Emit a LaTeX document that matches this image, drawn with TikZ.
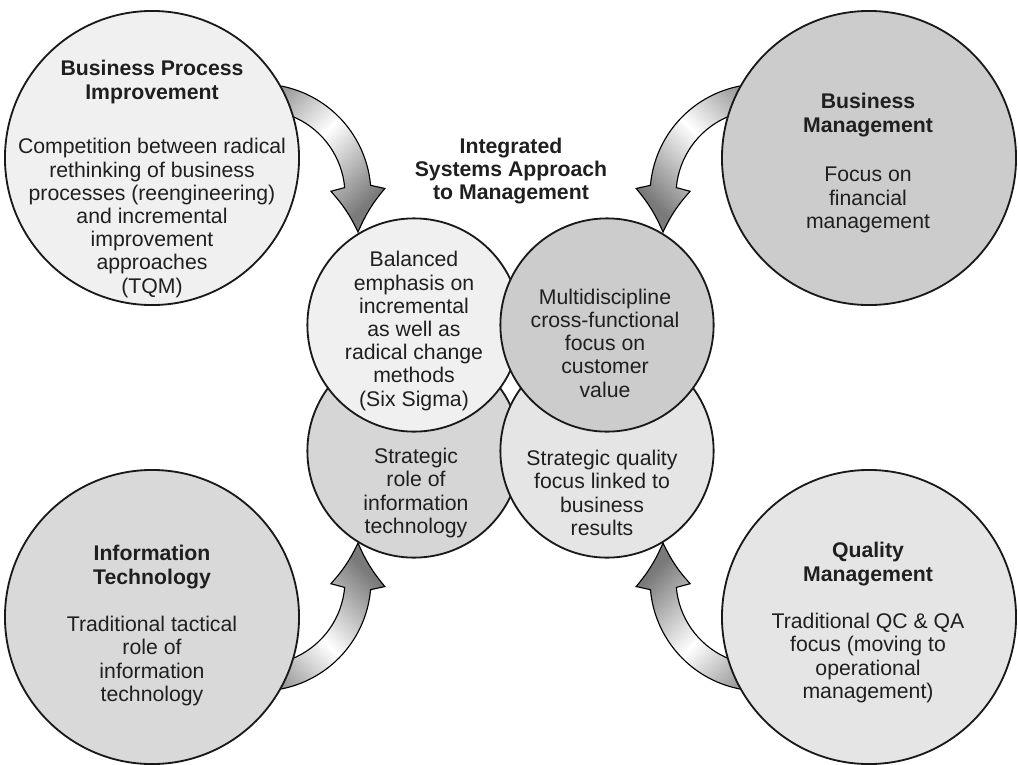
\documentclass[tikz,border=0pt]{standalone}
\usepackage{fontspec}
\setmainfont{Liberation Sans}
\usepackage{tikz}
\usetikzlibrary{calc}

\begin{document}
\begin{tikzpicture}[x=0.025cm, y=0.025cm,
	bigdisc/.style={circle, draw=black!90, line width=1.3pt, minimum size=7.35cm, inner sep=0pt},
	smalldisc/.style={circle, draw=black!90, line width=1.3pt, minimum size=5.33cm, inner sep=0pt},
	heading/.style={font=\bfseries\fontsize{15.1}{16.5}\selectfont, align=center, inner sep=0pt, text=black!88},
	body/.style={font=\fontsize{15.1}{16.5}\selectfont, align=center, inner sep=0pt, text=black!88},
	bendarrow/.style={draw=black, line width=0.8pt, left color=black!52, right color=black!52, middle color=white}]

	\useasboundingbox (0,0) rectangle (1018,-764);

	% centres of the four bent arrows
	\coordinate (atl) at (260,-195);
	\coordinate (atr) at (761,-195);
	\coordinate (abl) at (260,-580);
	\coordinate (abr) at (761,-580);

	\path[bendarrow, shading angle=45] ($(atl)+(110:111)$) arc[start angle=110, end angle=5, radius=111]
		-- ($(atl)+(3:125)$) to[bend right=8] ($(atl)+(0:98)+(0,-37)$) to[bend right=8] ($(atl)+(3:71)$) -- ($(atl)+(5:85)$)
		arc[start angle=5, end angle=110, radius=85] -- cycle;
	\path[bendarrow, shading angle=135] ($(atr)+(70:111)$) arc[start angle=70, end angle=175, radius=111]
		-- ($(atr)+(177:125)$) to[bend left=8] ($(atr)+(180:98)+(0,-37)$) to[bend left=8] ($(atr)+(177:71)$) -- ($(atr)+(175:85)$)
		arc[start angle=175, end angle=70, radius=85] -- cycle;
	\path[bendarrow, shading angle=-45] ($(abl)+(-110:111)$) arc[start angle=-110, end angle=-5, radius=111]
		-- ($(abl)+(-3:125)$) to[bend left=8] ($(abl)+(0:98)+(0,37)$) to[bend left=8] ($(abl)+(-3:71)$) -- ($(abl)+(-5:85)$)
		arc[start angle=-5, end angle=-110, radius=85] -- cycle;
	\path[bendarrow, shading angle=45] ($(abr)+(-70:111)$) arc[start angle=-70, end angle=-175, radius=111]
		-- ($(abr)+(-177:125)$) to[bend right=8] ($(abr)+(180:98)+(0,37)$) to[bend right=8] ($(abr)+(-177:71)$) -- ($(abr)+(-175:85)$)
		arc[start angle=-175, end angle=-70, radius=85] -- cycle;

	% outer circles
	\node[bigdisc, fill=black!6] (bpi) at (152,-158) {};
	\node[bigdisc, fill=black!20] (bm) at (869,-158) {};
	\node[bigdisc, fill=black!15] (it) at (152,-617) {};
	\node[bigdisc, fill=black!10] (qm) at (869,-617) {};

	% inner circles, lower pair first
	\node[smalldisc, fill=black!16] (srole) at (414,-451) {};
	\node[smalldisc, fill=black!10] (squal) at (607,-451) {};
	\node[smalldisc, fill=black!6] (bal) at (414,-325) {};
	\node[smalldisc, fill=black!20] (multi) at (607,-325) {};

	\node[heading] (bpihead) at (152,-82) {Business Process\\Improvement};
	\node[body] (bpitext) at (152,-218) {Competition between radical\\rethinking of business\\processes (reengineering)\\and incremental\\improvement\\approaches\\(TQM)};

	\node[heading] (bmhead) at (868,-115) {Business\\Management};
	\node[body] (bmtext) at (868,-200) {Focus on\\financial\\management};

	\node[heading] (ithead) at (152,-567) {Information\\Technology};
	\node[body] (ittext) at (152,-661) {Traditional tactical\\role of\\information\\technology};

	\node[heading] (qmhead) at (868,-564) {Quality\\Management};
	\node[body] (qmtext) at (868,-658) {Traditional QC \& QA\\focus (moving to\\operational\\management)};

	\node[heading] (title) at (511,-171) {Integrated\\Systems Approach\\to Management};

	\node[body] (baltext) at (414,-331) {Balanced\\emphasis on\\incremental\\as well as\\radical change\\methods\\(Six Sigma)};
	\node[body] (multitext) at (605,-343) {Multidiscipline\\cross-functional\\focus on\\customer\\value};
	\node[body] (sroletext) at (416,-493) {Strategic\\role of\\information\\technology};
	\node[body] (squaltext) at (602,-493) {Strategic quality\\focus linked to\\business\\results};
\end{tikzpicture}
\end{document}
